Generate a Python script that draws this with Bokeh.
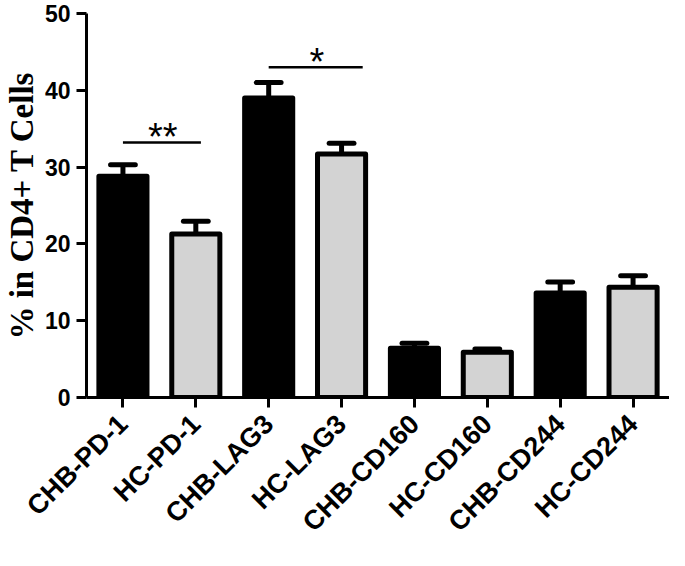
import math
from bokeh.plotting import figure
from bokeh.models import ColumnDataSource, FactorRange, Range1d, FixedTicker
from bokeh.transform import dodge
from bokeh.core.properties import value
from bokeh.embed import file_html
from bokeh.resources import INLINE

# ---- data ----
categories = ["CHB-PD-1", "HC-PD-1", "CHB-LAG3", "HC-LAG3",
              "CHB-CD160", "HC-CD160", "CHB-CD244", "HC-CD244"]
means = [28.8, 21.3, 39.0, 31.7, 6.4, 5.9, 13.6, 14.35]
errors = [1.5, 1.65, 2.0, 1.4, 0.65, 0.4, 1.45, 1.5]
groups = ["CHB", "HC", "CHB", "HC", "CHB", "HC", "CHB", "HC"]
y_ticks = [0, 10, 20, 30, 40, 50]
y_label = "% in CD4+ T Cells"

sig_left = ["CHB-PD-1", "CHB-LAG3"]
sig_right = ["HC-PD-1", "HC-LAG3"]
sig_level = [33.2, 43.0]
sig_text = ["**", "*"]

# ---- styles ----
group_fill = {"CHB": "#000000", "HC": "#d3d3d3"}
sig_right_offset = [0.07, 0.29]
sig_text_offset = [0.546, 0.66]
sig_text_lift = 0.7

tops = [m + e for m, e in zip(means, errors)]
src = ColumnDataSource(dict(
    cat=categories, mean=means, top=tops,
    fill=[group_fill[g] for g in groups],
))

p = figure(
    width=669, height=550,
    x_range=FactorRange(*categories, range_padding=0),
    y_range=Range1d(0, 50),
    output_backend="svg", toolbar_location=None,
    min_border_left=85, min_border_right=0,
    min_border_top=13, min_border_bottom=151,
)
p.outline_line_color = None
p.xgrid.grid_line_color = None
p.ygrid.grid_line_color = None
p.background_fill_color = "white"
p.border_fill_color = "white"

# error bar stems
p.segment(x0="cat", y0="mean", x1="cat", y1="top", source=src,
          line_color="black", line_width=5)
# bars
p.vbar(x="cat", top="mean", bottom=0, width=0.66, source=src,
       fill_color="fill", line_color="black", line_width=5,
       line_join="round")
# error bar caps
p.segment(x0=dodge("cat", -0.17, range=p.x_range), y0="top",
          x1=dodge("cat", 0.17, range=p.x_range), y1="top", source=src,
          line_color="black", line_width=5, line_cap="round")

# significance brackets
for i in range(len(sig_text)):
    s = ColumnDataSource(dict(l=[sig_left[i]], r=[sig_right[i]],
                              y=[sig_level[i]], ty=[sig_level[i] + sig_text_lift],
                              t=[sig_text[i]]))
    p.segment(x0=dodge("l", 0.0, range=p.x_range), y0="y",
              x1=dodge("r", sig_right_offset[i], range=p.x_range), y1="y",
              source=s, line_color="black", line_width=2.5)
    p.text(x=dodge("l", sig_text_offset[i], range=p.x_range), y="ty",
           text="t", source=s, text_align="center",
           text_baseline="alphabetic", text_font=value("Liberation Sans"),
           text_font_size="38px", text_color="black")

for ax in (p.xaxis[0], p.yaxis[0]):
    ax.axis_line_width = 3
    ax.axis_line_color = "black"
    ax.major_tick_line_width = 3
    ax.major_tick_line_color = "black"
    ax.major_tick_in = 0
    ax.major_tick_out = 10
    ax.minor_tick_line_color = None
    ax.major_label_text_font = "Liberation Sans"
    ax.major_label_text_font_style = "bold"
    ax.major_label_text_color = "black"

p.yaxis.ticker = FixedTicker(ticks=y_ticks)
p.yaxis.major_label_text_font_size = "23px"
p.yaxis.major_label_standoff = 6
p.yaxis.axis_label = y_label
p.yaxis.axis_label_text_font = "Liberation Serif"
p.yaxis.axis_label_text_font_style = "bold"
p.yaxis.axis_label_text_font_size = "33px"
p.yaxis.axis_label_text_color = "black"
p.yaxis.axis_label_standoff = 2

p.xaxis.major_label_orientation = math.pi / 4
p.xaxis.major_label_text_font_size = "27px"
p.xaxis.major_label_standoff = 12

open("out.html", "w").write(file_html(p, INLINE))
